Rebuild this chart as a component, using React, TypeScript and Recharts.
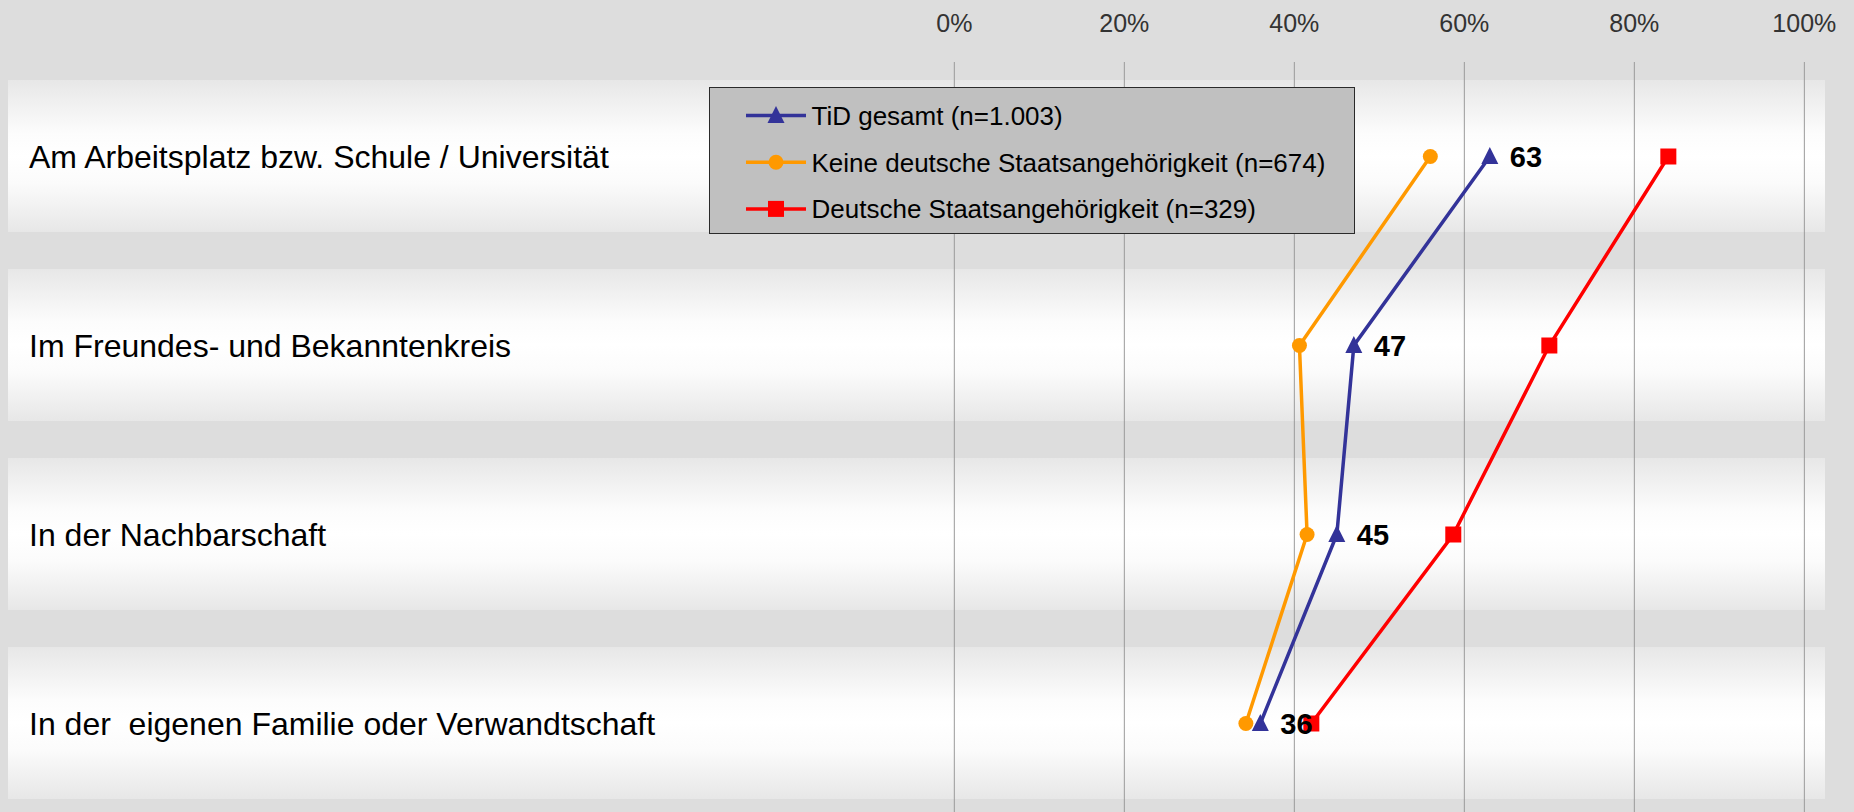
import React from 'react';
import {
  ComposedChart,
  Line,
  XAxis,
  YAxis,
  ReferenceArea,
  ReferenceLine,
  LabelList,
  Legend,
} from 'recharts';

const FONT = '"Liberation Sans", Arial, Helvetica, sans-serif';

// ---- data ----
const categories = [
  'Am Arbeitsplatz bzw. Schule / Universität',
  'Im Freundes- und Bekanntenkreis',
  'In der Nachbarschaft',
  'In der  eigenen Familie oder Verwandtschaft',
];
const tidGesamt = [63, 47, 45, 36];
const keineDeutsche = [56, 40.6, 41.5, 34.3];
const deutsche = [84, 70, 58.7, 42];
const xTicks = [0, 20, 40, 60, 80, 100];
const seriesNames = [
  'TiD gesamt (n=1.003)',
  'Keine deutsche Staatsangehörigkeit (n=674)',
  'Deutsche Staatsangehörigkeit (n=329)',
];

const data = categories.map((name, i) => ({
  name,
  tid: tidGesamt[i],
  keine: keineDeutsche[i],
  deutsch: deutsche[i],
}));

type Shape = 'triangle' | 'circle' | 'square';
const series: { key: string; name: string; color: string; shape: Shape }[] = [
  { key: 'tid', name: seriesNames[0], color: '#333399', shape: 'triangle' },
  { key: 'keine', name: seriesNames[1], color: '#FF9900', shape: 'circle' },
  { key: 'deutsch', name: seriesNames[2], color: '#FF0000', shape: 'square' },
];

const Marker = ({ cx, cy, shape, color }: { cx: number; cy: number; shape: Shape; color: string }) => {
  if (cx == null || cy == null) return null;
  if (shape === 'triangle') {
    return (
      <polygon
        points={`${cx},${cy - 9.5} ${cx - 8.5},${cy + 7.5} ${cx + 8.5},${cy + 7.5}`}
        fill={color}
      />
    );
  }
  if (shape === 'circle') {
    return <circle cx={cx} cy={cy} r={7.5} fill={color} />;
  }
  return <rect x={cx - 8} y={cy - 8} width={16} height={16} fill={color} />;
};

const makeDot = (shape: Shape, color: string) => (p: any) => (
  <Marker key={`dot-${shape}-${p.index}`} cx={p.cx} cy={p.cy} shape={shape} color={color} />
);

const BandShape = (p: any) => (
  <rect
    x={p.x}
    y={p.y + 18}
    width={p.width}
    height={Math.max(0, p.height - 37)}
    fill="url(#bandGrad)"
  />
);

const CategoryTick = (props: any) => {
  const { x, y, payload } = props;
  return (
    <text
      x={x + 21}
      y={y + 11.3}
      fontSize={32}
      fontFamily={FONT}
      fill="#000"
      style={{ whiteSpace: 'pre' }}
    >
      {payload.value}
    </text>
  );
};

const ValueLabel = (props: any) => {
  const { x, y, value } = props;
  if (x == null || y == null) return null;
  return (
    <text x={x + 20} y={y + 10.5} fontSize={29} fontWeight={700} fontFamily={FONT} fill="#000">
      {value}
    </text>
  );
};

const LegendContent = (props: any) => {
  const payload: any[] = props.payload || [];
  const rows = series.map((s) => {
    const item = payload.find((p) => p.dataKey === s.key);
    return { ...s, label: item ? item.value : s.name };
  });
  return (
    <div
      style={{
        width: 646,
        height: 147,
        boxSizing: 'border-box',
        background: '#C0C0C0',
        border: '1.5px solid #2a2a2a',
      }}
    >
      <svg width={643} height={144} style={{ display: 'block' }}>
        {rows.map((r, i) => {
          const cy = 27.5 + i * 46.7;
          return (
            <g key={r.key}>
              <line x1={36} x2={96} y1={cy} y2={cy} stroke={r.color} strokeWidth={3.5} />
              <Marker cx={66} cy={cy} shape={r.shape} color={r.color} />
              <text x={101.5} y={cy + 9.3} fontSize={26} fontFamily={FONT} fill="#000">
                {r.label}
              </text>
            </g>
          );
        })}
      </svg>
    </div>
  );
};

export default function App() {
  // draw order: orange, red, then blue (with its labels) on top
  const drawOrder = [series[1], series[2], series[0]];
  return (
    <div
      style={{
        position: 'absolute',
        left: 0,
        top: 0,
        width: 1854,
        height: 812,
        overflow: 'hidden',
        background: '#DDDDDD',
      }}
    >
      <svg width={0} height={0} style={{ position: 'absolute' }}>
        <defs>
          <linearGradient id="bandGrad" x1="0" y1="0" x2="0" y2="1">
            <stop offset="0%" stopColor="#E7E7E7" />
            <stop offset="35%" stopColor="#FCFCFC" />
            <stop offset="50%" stopColor="#FFFFFF" />
            <stop offset="68%" stopColor="#FBFBFB" />
            <stop offset="100%" stopColor="#E7E7E7" />
          </linearGradient>
        </defs>
      </svg>
      <ComposedChart
        layout="vertical"
        width={1854}
        height={818}
        data={data}
        margin={{ top: 0, right: 29, bottom: 0, left: 7 }}
        style={{ fontFamily: FONT }}
      >
        <XAxis
          type="number"
          orientation="top"
          domain={[-111.33, 102.43]}
          allowDataOverflow
          ticks={xTicks}
          interval={0}
          tickFormatter={(v: number) => `${v}%`}
          height={62}
          axisLine={false}
          tickLine={false}
          tickSize={0}
          tickMargin={30}
          tick={{ fill: '#333333', fontSize: 25, fontFamily: FONT }}
        />
        <YAxis
          type="category"
          dataKey="name"
          scale="band"
          width={1}
          axisLine={false}
          tickLine={false}
          tickSize={0}
          tickMargin={0}
          interval={0}
          tick={<CategoryTick />}
        />
        {categories.map((c) => (
          <ReferenceArea key={`band-${c}`} y1={c} y2={c} shape={BandShape} ifOverflow="visible" />
        ))}
        {xTicks.map((t) => (
          <ReferenceLine key={`grid-${t}`} x={t} stroke="#9A9A9A" strokeWidth={1} />
        ))}
        {drawOrder.map((s) => (
          <Line
            key={s.key}
            type="linear"
            dataKey={s.key}
            name={s.name}
            stroke={s.color}
            strokeWidth={3.5}
            dot={makeDot(s.shape, s.color)}
            activeDot={false}
            isAnimationActive={false}
          >
            {s.key === 'tid' ? <LabelList dataKey="tid" content={<ValueLabel />} /> : null}
          </Line>
        ))}
        <Legend
          layout="horizontal"
          verticalAlign="middle"
          align="center"
          wrapperStyle={{ left: 709, top: 87, width: 646, height: 147 }}
          content={<LegendContent />}
        />
      </ComposedChart>
    </div>
  );
}
